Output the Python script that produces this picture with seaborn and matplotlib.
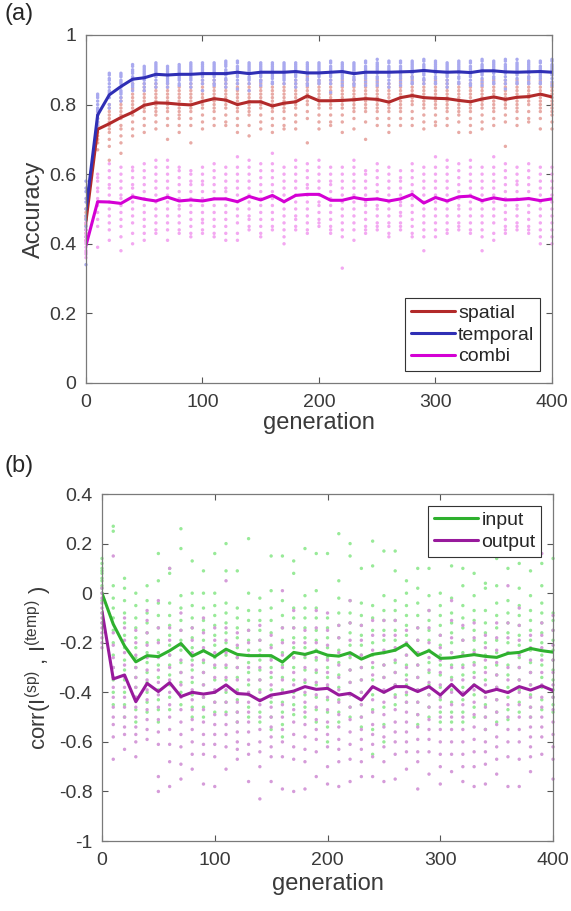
import matplotlib
matplotlib.use('Agg')
import pandas as pd
import matplotlib.pyplot as plt
import seaborn as sns

# x axis: generation, every 10 steps
generation = list(range(0, 401, 10))

# ---- panel (a): accuracy, mean lines ----
spatial_mean = [0.465, 0.729, 0.745, 0.763, 0.778, 0.798, 0.805, 0.804, 0.801, 0.799,
                0.809, 0.817, 0.813, 0.800, 0.808, 0.808, 0.796, 0.804, 0.808, 0.825,
                0.811, 0.811, 0.812, 0.814, 0.817, 0.815, 0.807, 0.820, 0.826, 0.820,
                0.818, 0.817, 0.812, 0.808, 0.816, 0.822, 0.815, 0.821, 0.823, 0.830, 0.822]
temporal_mean = [0.498, 0.770, 0.828, 0.852, 0.873, 0.877, 0.887, 0.885, 0.887, 0.887,
                 0.889, 0.889, 0.889, 0.893, 0.889, 0.893, 0.893, 0.893, 0.895, 0.891,
                 0.891, 0.893, 0.895, 0.889, 0.893, 0.893, 0.893, 0.894, 0.895, 0.898,
                 0.895, 0.893, 0.894, 0.892, 0.897, 0.897, 0.894, 0.893, 0.894, 0.895, 0.893]
combi_mean = [0.395, 0.521, 0.520, 0.516, 0.535, 0.528, 0.523, 0.534, 0.523, 0.526,
              0.523, 0.529, 0.529, 0.521, 0.536, 0.526, 0.539, 0.521, 0.539, 0.542,
              0.542, 0.525, 0.525, 0.533, 0.527, 0.529, 0.523, 0.529, 0.542, 0.517,
              0.533, 0.523, 0.535, 0.537, 0.524, 0.532, 0.526, 0.527, 0.530, 0.524, 0.529]

# individual runs (dots), one list per generation
spatial_runs = [
    [0.50, 0.49, 0.48, 0.475, 0.47, 0.46, 0.455, 0.45, 0.44, 0.43, 0.42, 0.41],
    [0.78, 0.77, 0.76, 0.75, 0.745, 0.74, 0.73, 0.72, 0.71, 0.70, 0.69, 0.67],
    [0.80, 0.79, 0.78, 0.77, 0.76, 0.75, 0.74, 0.73, 0.72, 0.70, 0.68, 0.64],
    [0.82, 0.81, 0.80, 0.79, 0.78, 0.77, 0.76, 0.74, 0.73, 0.71, 0.69, 0.66],
    [0.86, 0.845, 0.83, 0.82, 0.81, 0.80, 0.79, 0.78, 0.77, 0.75, 0.73, 0.71],
    [0.86, 0.85, 0.84, 0.83, 0.82, 0.81, 0.80, 0.79, 0.78, 0.76, 0.74, 0.72],
    [0.86, 0.85, 0.84, 0.83, 0.82, 0.81, 0.80, 0.79, 0.78, 0.77, 0.75, 0.73],
    [0.86, 0.85, 0.84, 0.83, 0.82, 0.81, 0.80, 0.79, 0.78, 0.76, 0.74, 0.70],
    [0.85, 0.84, 0.83, 0.82, 0.81, 0.80, 0.79, 0.78, 0.77, 0.76, 0.74, 0.72],
    [0.86, 0.85, 0.84, 0.83, 0.82, 0.81, 0.80, 0.79, 0.78, 0.76, 0.74, 0.69],
    [0.87, 0.86, 0.85, 0.84, 0.83, 0.82, 0.81, 0.80, 0.79, 0.77, 0.75, 0.73],
    [0.87, 0.86, 0.85, 0.84, 0.83, 0.82, 0.81, 0.80, 0.79, 0.78, 0.76, 0.74],
    [0.87, 0.86, 0.85, 0.84, 0.83, 0.82, 0.81, 0.80, 0.79, 0.77, 0.75, 0.74],
    [0.86, 0.85, 0.84, 0.83, 0.82, 0.81, 0.80, 0.79, 0.78, 0.76, 0.74, 0.72],
    [0.86, 0.85, 0.84, 0.83, 0.82, 0.81, 0.80, 0.79, 0.78, 0.77, 0.74, 0.71],
    [0.87, 0.86, 0.85, 0.84, 0.83, 0.82, 0.81, 0.80, 0.79, 0.77, 0.75, 0.73],
    [0.86, 0.85, 0.84, 0.83, 0.82, 0.81, 0.80, 0.79, 0.78, 0.76, 0.74, 0.72],
    [0.86, 0.85, 0.84, 0.83, 0.82, 0.81, 0.80, 0.79, 0.78, 0.76, 0.74, 0.73],
    [0.87, 0.86, 0.85, 0.84, 0.83, 0.82, 0.81, 0.80, 0.79, 0.77, 0.75, 0.73],
    [0.88, 0.87, 0.86, 0.85, 0.84, 0.83, 0.82, 0.81, 0.80, 0.78, 0.76, 0.69],
    [0.87, 0.86, 0.85, 0.84, 0.83, 0.82, 0.81, 0.80, 0.79, 0.77, 0.75, 0.73],
    [0.87, 0.86, 0.85, 0.84, 0.83, 0.82, 0.81, 0.80, 0.79, 0.77, 0.75, 0.74],
    [0.87, 0.86, 0.85, 0.84, 0.83, 0.82, 0.81, 0.80, 0.79, 0.77, 0.75, 0.72],
    [0.87, 0.86, 0.85, 0.84, 0.83, 0.82, 0.81, 0.80, 0.79, 0.78, 0.76, 0.73],
    [0.87, 0.86, 0.85, 0.84, 0.83, 0.82, 0.81, 0.80, 0.79, 0.78, 0.75, 0.70],
    [0.87, 0.86, 0.85, 0.84, 0.83, 0.82, 0.81, 0.80, 0.79, 0.78, 0.76, 0.74],
    [0.86, 0.85, 0.84, 0.83, 0.82, 0.81, 0.80, 0.79, 0.78, 0.76, 0.74, 0.72],
    [0.87, 0.86, 0.85, 0.84, 0.83, 0.82, 0.81, 0.80, 0.79, 0.78, 0.76, 0.74],
    [0.88, 0.87, 0.86, 0.85, 0.84, 0.83, 0.82, 0.81, 0.80, 0.78, 0.76, 0.74],
    [0.87, 0.86, 0.85, 0.84, 0.83, 0.82, 0.81, 0.80, 0.79, 0.77, 0.75, 0.73],
    [0.87, 0.86, 0.85, 0.84, 0.83, 0.82, 0.81, 0.80, 0.79, 0.77, 0.75, 0.74],
    [0.87, 0.86, 0.85, 0.84, 0.83, 0.82, 0.81, 0.80, 0.79, 0.78, 0.76, 0.74],
    [0.86, 0.85, 0.84, 0.83, 0.82, 0.81, 0.80, 0.79, 0.78, 0.77, 0.75, 0.72],
    [0.86, 0.85, 0.84, 0.83, 0.82, 0.81, 0.80, 0.79, 0.78, 0.76, 0.74, 0.72],
    [0.87, 0.86, 0.85, 0.84, 0.83, 0.82, 0.81, 0.80, 0.79, 0.77, 0.75, 0.73],
    [0.87, 0.86, 0.85, 0.84, 0.83, 0.82, 0.81, 0.80, 0.79, 0.78, 0.76, 0.74],
    [0.87, 0.86, 0.85, 0.84, 0.83, 0.82, 0.81, 0.80, 0.79, 0.77, 0.75, 0.68],
    [0.87, 0.86, 0.85, 0.84, 0.83, 0.82, 0.81, 0.80, 0.79, 0.78, 0.76, 0.74],
    [0.88, 0.87, 0.86, 0.85, 0.84, 0.83, 0.82, 0.81, 0.80, 0.78, 0.76, 0.75],
    [0.87, 0.86, 0.85, 0.84, 0.83, 0.82, 0.81, 0.80, 0.79, 0.78, 0.76, 0.73],
    [0.86, 0.85, 0.84, 0.83, 0.82, 0.81, 0.80, 0.79, 0.78, 0.77, 0.75, 0.73],
]
temporal_runs = [
    [0.58, 0.56, 0.55, 0.53, 0.52, 0.50, 0.48, 0.47, 0.45, 0.44, 0.42, 0.34],
    [0.83, 0.825, 0.82, 0.81, 0.80, 0.79, 0.785, 0.78, 0.77, 0.76, 0.75, 0.74],
    [0.89, 0.885, 0.875, 0.87, 0.86, 0.85, 0.84, 0.835, 0.83, 0.82, 0.80, 0.79],
    [0.89, 0.885, 0.88, 0.87, 0.865, 0.86, 0.85, 0.84, 0.835, 0.83, 0.82, 0.81],
    [0.915, 0.91, 0.90, 0.895, 0.89, 0.88, 0.875, 0.87, 0.86, 0.855, 0.85, 0.84],
    [0.91, 0.905, 0.90, 0.895, 0.89, 0.885, 0.88, 0.875, 0.87, 0.86, 0.85, 0.84],
    [0.92, 0.915, 0.91, 0.905, 0.90, 0.895, 0.89, 0.885, 0.88, 0.87, 0.86, 0.85],
    [0.91, 0.905, 0.90, 0.895, 0.89, 0.885, 0.88, 0.875, 0.87, 0.865, 0.86, 0.85],
    [0.915, 0.91, 0.905, 0.90, 0.895, 0.89, 0.885, 0.88, 0.875, 0.87, 0.86, 0.855],
    [0.92, 0.915, 0.91, 0.905, 0.90, 0.895, 0.89, 0.88, 0.875, 0.87, 0.86, 0.85],
    [0.92, 0.915, 0.91, 0.905, 0.90, 0.895, 0.89, 0.885, 0.88, 0.87, 0.86, 0.84],
    [0.92, 0.915, 0.91, 0.905, 0.90, 0.895, 0.89, 0.885, 0.88, 0.87, 0.86, 0.855],
    [0.925, 0.92, 0.915, 0.91, 0.90, 0.895, 0.89, 0.885, 0.875, 0.87, 0.86, 0.85],
    [0.925, 0.92, 0.91, 0.905, 0.90, 0.895, 0.89, 0.885, 0.88, 0.87, 0.86, 0.845],
    [0.92, 0.915, 0.91, 0.905, 0.90, 0.895, 0.89, 0.88, 0.875, 0.87, 0.86, 0.84],
    [0.92, 0.915, 0.91, 0.905, 0.90, 0.895, 0.89, 0.885, 0.88, 0.87, 0.865, 0.855],
    [0.92, 0.915, 0.91, 0.905, 0.90, 0.895, 0.89, 0.885, 0.88, 0.875, 0.865, 0.86],
    [0.92, 0.915, 0.91, 0.905, 0.90, 0.895, 0.89, 0.885, 0.88, 0.875, 0.87, 0.86],
    [0.92, 0.915, 0.91, 0.905, 0.90, 0.895, 0.89, 0.885, 0.88, 0.87, 0.86, 0.85],
    [0.92, 0.915, 0.91, 0.905, 0.90, 0.895, 0.89, 0.885, 0.875, 0.87, 0.86, 0.855],
    [0.92, 0.915, 0.91, 0.905, 0.90, 0.895, 0.89, 0.885, 0.88, 0.87, 0.865, 0.86],
    [0.925, 0.92, 0.91, 0.905, 0.90, 0.895, 0.89, 0.885, 0.88, 0.87, 0.86, 0.835],
    [0.92, 0.915, 0.91, 0.905, 0.90, 0.895, 0.89, 0.885, 0.88, 0.875, 0.865, 0.855],
    [0.92, 0.915, 0.91, 0.905, 0.90, 0.895, 0.89, 0.88, 0.875, 0.87, 0.86, 0.855],
    [0.925, 0.92, 0.91, 0.905, 0.90, 0.895, 0.89, 0.885, 0.88, 0.875, 0.865, 0.855],
    [0.93, 0.92, 0.915, 0.91, 0.905, 0.90, 0.895, 0.89, 0.88, 0.875, 0.865, 0.855],
    [0.925, 0.92, 0.91, 0.905, 0.90, 0.895, 0.89, 0.885, 0.88, 0.87, 0.86, 0.85],
    [0.925, 0.92, 0.91, 0.905, 0.90, 0.895, 0.89, 0.885, 0.88, 0.875, 0.865, 0.855],
    [0.925, 0.92, 0.915, 0.91, 0.905, 0.90, 0.895, 0.89, 0.88, 0.875, 0.865, 0.86],
    [0.93, 0.925, 0.915, 0.91, 0.905, 0.90, 0.895, 0.89, 0.885, 0.875, 0.87, 0.86],
    [0.925, 0.92, 0.915, 0.91, 0.905, 0.90, 0.895, 0.89, 0.88, 0.875, 0.865, 0.86],
    [0.92, 0.915, 0.91, 0.905, 0.90, 0.895, 0.89, 0.885, 0.88, 0.87, 0.86, 0.85],
    [0.925, 0.92, 0.915, 0.91, 0.905, 0.90, 0.895, 0.89, 0.88, 0.875, 0.865, 0.86],
    [0.925, 0.92, 0.91, 0.905, 0.90, 0.895, 0.89, 0.885, 0.88, 0.87, 0.86, 0.855],
    [0.93, 0.925, 0.915, 0.91, 0.905, 0.90, 0.895, 0.89, 0.885, 0.875, 0.865, 0.855],
    [0.925, 0.92, 0.915, 0.91, 0.905, 0.90, 0.895, 0.89, 0.88, 0.875, 0.865, 0.86],
    [0.93, 0.925, 0.915, 0.91, 0.905, 0.90, 0.895, 0.89, 0.88, 0.87, 0.86, 0.845],
    [0.93, 0.92, 0.915, 0.91, 0.905, 0.90, 0.895, 0.89, 0.885, 0.875, 0.865, 0.86],
    [0.925, 0.92, 0.915, 0.91, 0.905, 0.90, 0.895, 0.89, 0.88, 0.875, 0.865, 0.86],
    [0.925, 0.92, 0.91, 0.905, 0.90, 0.895, 0.89, 0.885, 0.88, 0.875, 0.865, 0.86],
    [0.93, 0.925, 0.915, 0.91, 0.905, 0.90, 0.895, 0.89, 0.885, 0.875, 0.865, 0.855],
]
combi_runs = [
    [0.46, 0.44, 0.43, 0.42, 0.41, 0.405, 0.40, 0.39, 0.38, 0.375, 0.37, 0.36],
    [0.60, 0.59, 0.58, 0.56, 0.55, 0.53, 0.52, 0.51, 0.49, 0.47, 0.45, 0.39],
    [0.63, 0.61, 0.59, 0.57, 0.56, 0.54, 0.52, 0.50, 0.48, 0.46, 0.44, 0.41],
    [0.62, 0.60, 0.58, 0.56, 0.54, 0.53, 0.51, 0.49, 0.47, 0.45, 0.42, 0.38],
    [0.62, 0.61, 0.59, 0.57, 0.56, 0.54, 0.52, 0.50, 0.48, 0.46, 0.43, 0.40],
    [0.63, 0.61, 0.59, 0.57, 0.55, 0.53, 0.51, 0.49, 0.47, 0.45, 0.43, 0.41],
    [0.64, 0.62, 0.60, 0.58, 0.56, 0.54, 0.52, 0.50, 0.48, 0.46, 0.44, 0.43],
    [0.64, 0.62, 0.60, 0.58, 0.56, 0.54, 0.52, 0.50, 0.48, 0.46, 0.44, 0.41],
    [0.62, 0.61, 0.59, 0.57, 0.55, 0.53, 0.51, 0.50, 0.48, 0.46, 0.44, 0.43],
    [0.61, 0.60, 0.58, 0.57, 0.55, 0.53, 0.51, 0.49, 0.47, 0.45, 0.43, 0.42],
    [0.62, 0.60, 0.58, 0.57, 0.55, 0.53, 0.51, 0.49, 0.47, 0.46, 0.44, 0.43],
    [0.63, 0.61, 0.59, 0.57, 0.55, 0.53, 0.51, 0.49, 0.47, 0.45, 0.43, 0.42],
    [0.62, 0.60, 0.58, 0.56, 0.55, 0.53, 0.51, 0.49, 0.47, 0.45, 0.43, 0.41],
    [0.65, 0.62, 0.60, 0.58, 0.56, 0.54, 0.52, 0.50, 0.48, 0.46, 0.43, 0.41],
    [0.64, 0.62, 0.60, 0.58, 0.56, 0.54, 0.52, 0.50, 0.48, 0.47, 0.45, 0.44],
    [0.63, 0.61, 0.59, 0.57, 0.55, 0.53, 0.51, 0.49, 0.47, 0.45, 0.43, 0.42],
    [0.66, 0.63, 0.61, 0.59, 0.57, 0.55, 0.53, 0.51, 0.49, 0.47, 0.45, 0.44],
    [0.62, 0.60, 0.58, 0.56, 0.54, 0.52, 0.50, 0.48, 0.46, 0.44, 0.42, 0.40],
    [0.64, 0.62, 0.60, 0.58, 0.56, 0.54, 0.52, 0.50, 0.48, 0.47, 0.45, 0.44],
    [0.63, 0.61, 0.59, 0.57, 0.56, 0.54, 0.52, 0.50, 0.48, 0.46, 0.44, 0.43],
    [0.64, 0.62, 0.60, 0.58, 0.56, 0.54, 0.52, 0.51, 0.49, 0.47, 0.46, 0.45],
    [0.62, 0.60, 0.58, 0.57, 0.55, 0.53, 0.51, 0.49, 0.47, 0.45, 0.44, 0.43],
    [0.62, 0.60, 0.58, 0.56, 0.54, 0.52, 0.50, 0.48, 0.46, 0.44, 0.42, 0.33],
    [0.64, 0.62, 0.60, 0.58, 0.56, 0.54, 0.52, 0.50, 0.48, 0.46, 0.44, 0.41],
    [0.61, 0.60, 0.58, 0.56, 0.54, 0.52, 0.51, 0.49, 0.47, 0.45, 0.44, 0.43],
    [0.63, 0.61, 0.59, 0.57, 0.55, 0.53, 0.51, 0.50, 0.48, 0.46, 0.45, 0.44],
    [0.62, 0.60, 0.58, 0.56, 0.54, 0.52, 0.50, 0.48, 0.46, 0.45, 0.43, 0.42],
    [0.61, 0.59, 0.58, 0.56, 0.54, 0.52, 0.51, 0.49, 0.48, 0.46, 0.45, 0.44],
    [0.63, 0.61, 0.59, 0.57, 0.55, 0.53, 0.51, 0.49, 0.47, 0.45, 0.43, 0.42],
    [0.62, 0.60, 0.58, 0.56, 0.54, 0.52, 0.50, 0.48, 0.46, 0.44, 0.42, 0.38],
    [0.65, 0.62, 0.60, 0.58, 0.56, 0.54, 0.52, 0.50, 0.48, 0.46, 0.44, 0.42],
    [0.64, 0.62, 0.60, 0.58, 0.56, 0.54, 0.52, 0.50, 0.48, 0.46, 0.44, 0.43],
    [0.63, 0.61, 0.59, 0.57, 0.55, 0.53, 0.51, 0.50, 0.48, 0.46, 0.45, 0.44],
    [0.64, 0.62, 0.60, 0.58, 0.56, 0.54, 0.52, 0.50, 0.48, 0.46, 0.44, 0.43],
    [0.62, 0.60, 0.58, 0.56, 0.54, 0.52, 0.50, 0.48, 0.46, 0.44, 0.42, 0.38],
    [0.65, 0.62, 0.60, 0.58, 0.56, 0.54, 0.52, 0.50, 0.48, 0.46, 0.43, 0.41],
    [0.63, 0.61, 0.59, 0.57, 0.55, 0.53, 0.51, 0.49, 0.47, 0.45, 0.44, 0.43],
    [0.62, 0.60, 0.58, 0.57, 0.55, 0.53, 0.51, 0.50, 0.48, 0.46, 0.45, 0.44],
    [0.63, 0.61, 0.59, 0.57, 0.55, 0.53, 0.51, 0.49, 0.47, 0.45, 0.44, 0.43],
    [0.62, 0.60, 0.58, 0.56, 0.54, 0.52, 0.50, 0.48, 0.46, 0.44, 0.42, 0.40],
    [0.62, 0.60, 0.58, 0.56, 0.54, 0.52, 0.50, 0.48, 0.46, 0.44, 0.42, 0.40],
]

# ---- panel (b): correlation, mean lines ----
input_mean = [0.000, -0.125, -0.213, -0.277, -0.252, -0.256, -0.232, -0.203, -0.254, -0.232,
              -0.256, -0.226, -0.247, -0.252, -0.252, -0.252, -0.278, -0.239, -0.247, -0.234,
              -0.250, -0.254, -0.240, -0.266, -0.247, -0.240, -0.230, -0.205, -0.251, -0.232,
              -0.263, -0.261, -0.254, -0.248, -0.255, -0.259, -0.243, -0.239, -0.223, -0.232, -0.238]
output_mean = [-0.072, -0.346, -0.330, -0.438, -0.364, -0.397, -0.361, -0.417, -0.400, -0.407,
               -0.400, -0.370, -0.405, -0.408, -0.434, -0.411, -0.404, -0.395, -0.377, -0.388,
               -0.384, -0.411, -0.404, -0.431, -0.377, -0.400, -0.377, -0.377, -0.397, -0.377,
               -0.411, -0.368, -0.412, -0.370, -0.400, -0.388, -0.401, -0.377, -0.391, -0.374, -0.393]

input_runs = [
    [0.14, 0.12, 0.10, 0.09, 0.08, 0.06, 0.05, 0.03, 0.02, 0.00, -0.03, -0.08, -0.12],
    [0.27, 0.25, 0.03, -0.02, -0.06, -0.10, -0.15, -0.20, -0.25, -0.30, -0.35, -0.40, -0.45],
    [0.06, 0.02, -0.03, -0.08, -0.12, -0.17, -0.22, -0.27, -0.31, -0.35, -0.40, -0.45, -0.50],
    [0.00, -0.05, -0.10, -0.14, -0.18, -0.22, -0.26, -0.30, -0.34, -0.38, -0.42, -0.47, -0.52],
    [0.03, -0.03, -0.08, -0.12, -0.16, -0.20, -0.24, -0.28, -0.32, -0.36, -0.40, -0.44, -0.48],
    [0.16, 0.05, -0.04, -0.09, -0.14, -0.19, -0.24, -0.29, -0.34, -0.39, -0.43, -0.47, -0.52],
    [0.10, 0.08, -0.04, -0.09, -0.13, -0.17, -0.21, -0.25, -0.29, -0.33, -0.37, -0.42, -0.47],
    [0.26, 0.18, -0.01, -0.06, -0.11, -0.15, -0.19, -0.23, -0.28, -0.32, -0.36, -0.40, -0.45],
    [0.13, 0.00, -0.05, -0.10, -0.14, -0.18, -0.22, -0.27, -0.31, -0.36, -0.41, -0.46, -0.50],
    [0.09, 0.00, -0.06, -0.11, -0.15, -0.19, -0.23, -0.28, -0.32, -0.37, -0.42, -0.46, -0.50],
    [0.16, 0.00, -0.05, -0.09, -0.13, -0.17, -0.21, -0.26, -0.30, -0.35, -0.40, -0.44, -0.48],
    [0.20, 0.09, -0.04, -0.08, -0.12, -0.16, -0.20, -0.25, -0.30, -0.35, -0.40, -0.44, -0.48],
    [0.09, -0.06, -0.10, -0.14, -0.18, -0.22, -0.26, -0.30, -0.34, -0.39, -0.43, -0.48, -0.52],
    [0.22, 0.00, -0.07, -0.11, -0.15, -0.19, -0.23, -0.28, -0.32, -0.37, -0.41, -0.46, -0.50],
    [-0.02, -0.07, -0.11, -0.15, -0.19, -0.23, -0.27, -0.31, -0.35, -0.39, -0.43, -0.48, -0.52],
    [0.15, 0.01, -0.06, -0.11, -0.16, -0.21, -0.26, -0.30, -0.34, -0.39, -0.44, -0.50, -0.55],
    [0.15, -0.03, -0.09, -0.14, -0.19, -0.24, -0.29, -0.34, -0.39, -0.44, -0.48, -0.53, -0.58],
    [0.13, 0.08, -0.06, -0.10, -0.14, -0.18, -0.22, -0.26, -0.30, -0.35, -0.40, -0.45, -0.49],
    [0.18, -0.01, -0.06, -0.10, -0.14, -0.18, -0.22, -0.26, -0.31, -0.36, -0.41, -0.46, -0.50],
    [0.16, 0.01, -0.06, -0.10, -0.15, -0.19, -0.23, -0.27, -0.32, -0.37, -0.42, -0.47, -0.52],
    [0.16, -0.10, -0.14, -0.18, -0.22, -0.26, -0.30, -0.34, -0.38, -0.43, -0.48, -0.54, -0.60],
    [0.24, 0.05, -0.02, -0.08, -0.13, -0.18, -0.23, -0.28, -0.33, -0.38, -0.43, -0.48, -0.52],
    [0.20, 0.15, -0.03, -0.08, -0.12, -0.16, -0.21, -0.26, -0.31, -0.36, -0.41, -0.46, -0.50],
    [0.10, -0.04, -0.09, -0.13, -0.17, -0.21, -0.25, -0.30, -0.35, -0.40, -0.45, -0.50, -0.54],
    [0.21, 0.11, -0.05, -0.10, -0.15, -0.20, -0.25, -0.30, -0.35, -0.41, -0.47, -0.55, -0.65],
    [0.17, -0.01, -0.07, -0.11, -0.15, -0.19, -0.24, -0.29, -0.34, -0.40, -0.46, -0.53, -0.60],
    [0.17, 0.09, -0.03, -0.07, -0.11, -0.15, -0.19, -0.23, -0.28, -0.32, -0.37, -0.41, -0.45],
    [0.05, 0.00, -0.05, -0.09, -0.13, -0.17, -0.21, -0.25, -0.29, -0.33, -0.37, -0.41, -0.44],
    [0.10, 0.02, -0.04, -0.09, -0.14, -0.19, -0.24, -0.29, -0.34, -0.39, -0.44, -0.49, -0.53],
    [0.10, -0.01, -0.07, -0.11, -0.15, -0.19, -0.23, -0.28, -0.32, -0.37, -0.41, -0.46, -0.50],
    [0.00, -0.05, -0.09, -0.13, -0.17, -0.21, -0.25, -0.29, -0.33, -0.38, -0.43, -0.48, -0.52],
    [0.11, -0.02, -0.08, -0.12, -0.16, -0.20, -0.24, -0.29, -0.34, -0.39, -0.44, -0.48, -0.52],
    [0.10, 0.03, -0.05, -0.10, -0.14, -0.19, -0.24, -0.29, -0.33, -0.38, -0.43, -0.48, -0.52],
    [0.08, -0.01, -0.07, -0.11, -0.15, -0.19, -0.23, -0.28, -0.32, -0.37, -0.41, -0.46, -0.50],
    [0.04, 0.02, -0.07, -0.12, -0.16, -0.20, -0.25, -0.30, -0.35, -0.40, -0.45, -0.50, -0.55],
    [0.14, 0.03, -0.04, -0.09, -0.14, -0.19, -0.24, -0.29, -0.33, -0.38, -0.43, -0.48, -0.52],
    [0.10, -0.03, -0.08, -0.12, -0.16, -0.20, -0.24, -0.29, -0.33, -0.38, -0.42, -0.47, -0.51],
    [0.12, 0.02, -0.05, -0.09, -0.13, -0.17, -0.21, -0.26, -0.30, -0.35, -0.39, -0.44, -0.48],
    [0.09, -0.01, -0.07, -0.11, -0.15, -0.19, -0.23, -0.28, -0.32, -0.37, -0.41, -0.46, -0.50],
    [0.12, 0.03, -0.04, -0.08, -0.12, -0.16, -0.20, -0.25, -0.29, -0.34, -0.38, -0.43, -0.47],
    [0.14, -0.08, -0.11, -0.15, -0.19, -0.23, -0.27, -0.31, -0.35, -0.39, -0.42, -0.45, -0.48],
]
output_runs = [
    [0.02, 0.00, -0.02, -0.04, -0.06, -0.08, -0.10, -0.12, -0.14, -0.16, -0.18, -0.20, -0.22],
    [0.15, -0.16, -0.21, -0.26, -0.30, -0.34, -0.38, -0.42, -0.46, -0.50, -0.53, -0.58, -0.67],
    [-0.10, -0.14, -0.19, -0.24, -0.29, -0.34, -0.38, -0.42, -0.46, -0.50, -0.54, -0.57, -0.63],
    [-0.15, -0.20, -0.25, -0.30, -0.34, -0.38, -0.42, -0.46, -0.50, -0.54, -0.57, -0.60, -0.66],
    [-0.07, -0.11, -0.16, -0.21, -0.26, -0.31, -0.35, -0.39, -0.43, -0.47, -0.51, -0.55, -0.59],
    [-0.03, -0.14, -0.20, -0.26, -0.31, -0.36, -0.41, -0.46, -0.51, -0.56, -0.61, -0.74, -0.80],
    [0.10, -0.14, -0.19, -0.25, -0.30, -0.35, -0.40, -0.45, -0.50, -0.55, -0.61, -0.68, -0.78],
    [-0.08, -0.15, -0.21, -0.27, -0.32, -0.37, -0.42, -0.47, -0.52, -0.57, -0.62, -0.69, -0.75],
    [-0.14, -0.19, -0.24, -0.29, -0.34, -0.39, -0.43, -0.47, -0.51, -0.55, -0.60, -0.65, -0.71],
    [-0.10, -0.16, -0.22, -0.27, -0.32, -0.37, -0.42, -0.47, -0.52, -0.57, -0.61, -0.65, -0.77],
    [-0.14, -0.19, -0.24, -0.29, -0.34, -0.39, -0.44, -0.49, -0.53, -0.57, -0.61, -0.66, -0.78],
    [0.05, -0.14, -0.19, -0.24, -0.29, -0.34, -0.39, -0.44, -0.49, -0.53, -0.57, -0.62, -0.71],
    [-0.16, -0.21, -0.26, -0.30, -0.35, -0.40, -0.44, -0.48, -0.52, -0.56, -0.60, -0.63, -0.67],
    [-0.15, -0.20, -0.25, -0.30, -0.35, -0.40, -0.44, -0.48, -0.52, -0.56, -0.61, -0.65, -0.76],
    [-0.13, -0.19, -0.25, -0.30, -0.35, -0.40, -0.45, -0.50, -0.55, -0.60, -0.64, -0.70, -0.83],
    [-0.17, -0.22, -0.27, -0.32, -0.37, -0.42, -0.46, -0.50, -0.54, -0.58, -0.62, -0.66, -0.76],
    [0.01, -0.14, -0.20, -0.25, -0.30, -0.35, -0.40, -0.45, -0.50, -0.55, -0.60, -0.66, -0.79],
    [-0.07, -0.14, -0.20, -0.26, -0.32, -0.37, -0.42, -0.47, -0.52, -0.57, -0.62, -0.67, -0.80],
    [-0.15, -0.20, -0.25, -0.30, -0.35, -0.40, -0.44, -0.48, -0.53, -0.58, -0.63, -0.68, -0.79],
    [-0.07, -0.14, -0.20, -0.26, -0.31, -0.36, -0.41, -0.46, -0.51, -0.55, -0.59, -0.64, -0.74],
    [-0.08, -0.15, -0.21, -0.27, -0.32, -0.37, -0.42, -0.47, -0.52, -0.57, -0.62, -0.70, -0.77],
    [-0.13, -0.18, -0.24, -0.29, -0.34, -0.39, -0.44, -0.49, -0.54, -0.59, -0.63, -0.68, -0.78],
    [-0.03, -0.12, -0.19, -0.25, -0.31, -0.36, -0.41, -0.46, -0.51, -0.56, -0.61, -0.67, -0.76],
    [-0.13, -0.19, -0.25, -0.30, -0.35, -0.40, -0.45, -0.50, -0.55, -0.59, -0.63, -0.68, -0.74],
    [-0.11, -0.17, -0.23, -0.28, -0.33, -0.38, -0.43, -0.48, -0.53, -0.57, -0.61, -0.66, -0.74],
    [-0.11, -0.17, -0.23, -0.29, -0.34, -0.39, -0.44, -0.49, -0.54, -0.58, -0.62, -0.68, -0.76],
    [-0.11, -0.17, -0.22, -0.27, -0.32, -0.37, -0.42, -0.47, -0.52, -0.56, -0.60, -0.65, -0.75],
    [-0.15, -0.20, -0.25, -0.30, -0.35, -0.40, -0.44, -0.48, -0.52, -0.56, -0.60, -0.64, -0.71],
    [-0.14, -0.19, -0.24, -0.29, -0.34, -0.39, -0.44, -0.49, -0.54, -0.59, -0.64, -0.68, -0.79],
    [-0.07, -0.14, -0.20, -0.26, -0.31, -0.36, -0.41, -0.46, -0.51, -0.55, -0.59, -0.64, -0.73],
    [-0.17, -0.22, -0.27, -0.32, -0.37, -0.42, -0.46, -0.50, -0.55, -0.60, -0.65, -0.70, -0.77],
    [-0.03, -0.11, -0.18, -0.24, -0.30, -0.35, -0.40, -0.45, -0.50, -0.55, -0.60, -0.65, -0.72],
    [-0.13, -0.19, -0.25, -0.30, -0.35, -0.40, -0.45, -0.50, -0.55, -0.60, -0.65, -0.70, -0.76],
    [-0.12, -0.18, -0.24, -0.29, -0.34, -0.39, -0.44, -0.49, -0.54, -0.59, -0.64, -0.70, -0.78],
    [-0.17, -0.22, -0.27, -0.32, -0.37, -0.42, -0.46, -0.50, -0.55, -0.60, -0.64, -0.69, -0.77],
    [-0.12, -0.18, -0.23, -0.28, -0.33, -0.38, -0.43, -0.48, -0.53, -0.58, -0.62, -0.67, -0.73],
    [0.03, -0.12, -0.18, -0.24, -0.30, -0.35, -0.40, -0.45, -0.50, -0.55, -0.60, -0.66, -0.78],
    [-0.06, -0.13, -0.19, -0.25, -0.30, -0.35, -0.40, -0.45, -0.50, -0.55, -0.60, -0.67, -0.78],
    [-0.17, -0.22, -0.27, -0.32, -0.37, -0.42, -0.46, -0.50, -0.54, -0.58, -0.62, -0.66, -0.72],
    [0.16, -0.12, -0.17, -0.22, -0.27, -0.32, -0.37, -0.42, -0.46, -0.50, -0.54, -0.58, -0.65],
    [-0.09, -0.15, -0.21, -0.27, -0.32, -0.37, -0.42, -0.47, -0.52, -0.57, -0.62, -0.67, -0.75],
]

acc_yticks = [0, 0.2, 0.4, 0.6, 0.8, 1]
acc_yticklabels = ['0', '0.2', '0.4', '0.6', '0.8', '1']
corr_yticks = [-1, -0.8, -0.6, -0.4, -0.2, 0, 0.2, 0.4]
corr_yticklabels = ['-1', '-0.8', '-0.6', '-0.4', '-0.2', '0', '0.2', '0.4']
xticks = [0, 100, 200, 300, 400]

line_colors = {'spatial': '#b22a2a', 'temporal': '#2f2fb5', 'combi': '#d400d4',
               'input': '#2eb02e', 'output': '#981a9c'}
dot_colors = {'spatial': '#e8aaa5', 'temporal': '#a9a9ef', 'combi': '#f3a8f1',
              'input': '#98ea98', 'output': '#d59bd9'}


def long_means(names, means):
    rows = []
    for name, vals in zip(names, means):
        for g, v in zip(generation, vals):
            rows.append((g, v, name))
    return pd.DataFrame(rows, columns=['generation', 'value', 'series'])


def long_runs(names, runs):
    rows = []
    for name, cols in zip(names, runs):
        for g, col in zip(generation, cols):
            for v in col:
                rows.append((g, v, name))
    return pd.DataFrame(rows, columns=['generation', 'value', 'series'])


sns.set_style('ticks')
plt.rcParams['font.family'] = ['Liberation Sans', 'DejaVu Sans']
plt.rcParams['mathtext.default'] = 'regular'
plt.rcParams['axes.unicode_minus'] = False

fig = plt.figure(figsize=(5.71, 9.11), dpi=100)
ax1 = fig.add_axes([0.1506, 0.5796, 0.8161, 0.3820])
ax2 = fig.add_axes([0.1786, 0.0768, 0.7900, 0.3809])

# panel (a)
names_a = ['spatial', 'temporal', 'combi']
dots_a = long_runs(names_a, [spatial_runs, temporal_runs, combi_runs])
lines_a = long_means(names_a, [spatial_mean, temporal_mean, combi_mean])
sns.scatterplot(data=dots_a, x='generation', y='value', hue='series',
                hue_order=['combi', 'spatial', 'temporal'], palette=dot_colors,
                s=6, linewidth=0, legend=False, ax=ax1, clip_on=False)
sns.lineplot(data=lines_a, x='generation', y='value', hue='series',
             hue_order=names_a, palette=line_colors, linewidth=2.2, ax=ax1)

# panel (b)
names_b = ['input', 'output']
dots_b = long_runs(names_b, [input_runs, output_runs])
lines_b = long_means(names_b, [input_mean, output_mean])
sns.scatterplot(data=dots_b, x='generation', y='value', hue='series',
                hue_order=names_b, palette=dot_colors,
                s=6, linewidth=0, legend=False, ax=ax2, clip_on=False)
sns.lineplot(data=lines_b, x='generation', y='value', hue='series',
             hue_order=names_b, palette=line_colors, linewidth=2.2, ax=ax2)

for ax in (ax1, ax2):
    ax.set_xlim(0, 400)
    ax.set_xticks(xticks)
    ax.set_xticklabels([str(t) for t in xticks])
    ax.tick_params(direction='in', top=True, right=True, length=4, width=0.8,
                   color='#555555', labelcolor='#3a3a3a', labelsize=14)
    ax.tick_params(axis='y', pad=7)
    ax.tick_params(axis='x', pad=8)
    for sp in ax.spines.values():
        sp.set_color('#7a7a7a')
        sp.set_linewidth(0.9)

ax1.set_xlabel('generation', fontsize=17, color='#3a3a3a', labelpad=1)
ax2.set_xlabel('generation', fontsize=17, color='#3a3a3a', labelpad=3)

ax1.set_ylim(0, 1)
ax1.set_yticks(acc_yticks)
ax1.set_yticklabels(acc_yticklabels)
ax1.set_ylabel('Accuracy', fontsize=17, color='#3a3a3a', labelpad=3)

ax2.set_ylim(-1, 0.4)
ax2.set_yticks(corr_yticks)
ax2.set_yticklabels(corr_yticklabels)
ax2.set_ylabel(r'corr(I$^{(sp)}$ , I$^{(temp)}$ )', fontsize=16, color='#3a3a3a', labelpad=3)

leg_kw = dict(fontsize=14, frameon=True, fancybox=False, edgecolor='#333333',
              handlelength=2.3, handletextpad=0.15, borderpad=0.3, labelspacing=0.22,
              borderaxespad=0.6, framealpha=1)
h, l = ax1.get_legend_handles_labels()
leg1 = ax1.legend(h, l, loc='lower right', **leg_kw)
h, l = ax2.get_legend_handles_labels()
leg2 = ax2.legend(h, l, loc='upper right', **leg_kw)
for leg in (leg1, leg2):
    leg.get_frame().set_linewidth(0.8)
    for line in leg.get_lines():
        line.set_linewidth(2.2)

fig.text(0.008, 0.985, '(a)', fontsize=17, va='center', ha='left')
fig.text(0.008, 0.488, '(b)', fontsize=17, va='center', ha='left')

fig.savefig('out.png', dpi=100)
